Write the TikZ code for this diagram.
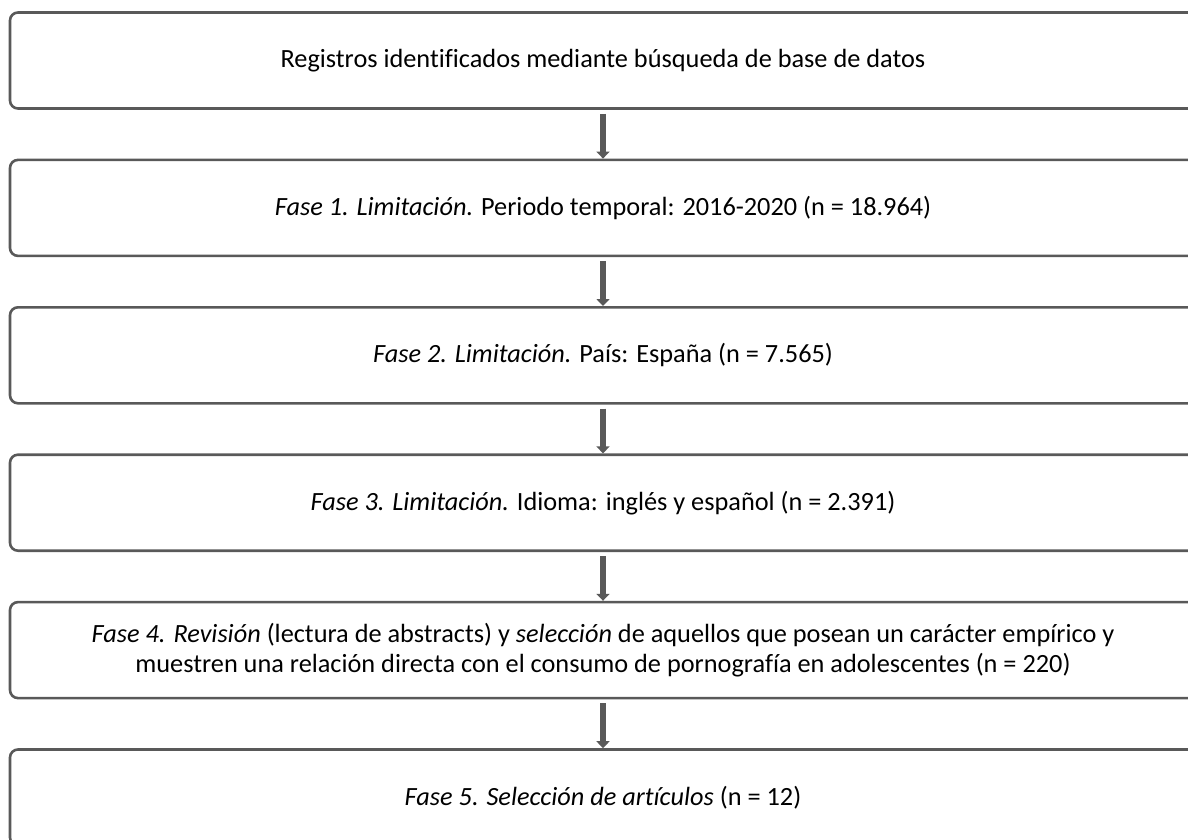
\documentclass[tikz,border=0pt]{standalone}
\usepackage{fontspec}
\setmainfont{Carlito}[Ligatures={NoCommon}]
\usepackage{tikz}
\usetikzlibrary{arrows.meta}
\definecolor{linegray}{HTML}{595959}

\begin{document}
\begin{tikzpicture}[x=1pt, y=-1pt, font=\fontsize{26.3}{30}\selectfont, node distance={147.4pt}, phase/.style = {draw=linegray, line width=2.6pt, rounded corners=8pt, minimum width=1186pt, minimum height=96pt, align=center, inner sep=0pt}, flow/.style = {draw=linegray, line width=5.5pt, -{Triangle[width=13pt, length=7pt]}, shorten <=4pt}]
                \clip (0,0) rectangle (1188,840);
                \node[phase] (b1) at (603,60.5) {Registros identificados mediante búsqueda de base de datos};
                \node[phase] (b2) [below of=b1] {\textit{Fase 1. Limitación.} Periodo temporal: 2016-2020 (n = 18.964)};
                \node[phase] (b3) [below of=b2] {\textit{Fase 2. Limitación.} País: España (n = 7.565)};
                \node[phase] (b4) [below of=b3] {\textit{Fase 3. Limitación.} Idioma: inglés y español (n = 2.391)};
                \node[phase] (b5) [below of=b4] {\textit{Fase 4. Revisión} (lectura de abstracts) y \textit{selección} de aquellos que posean un carácter empírico y\\muestren una relación directa con el consumo de pornografía en adolescentes (n = 220)};
                \node[phase] (b6) [below of=b5] {\textit{Fase 5. Selección de artículos} (n = 12)};
                \draw[flow] (b1) -- (b2);
                \draw[flow] (b2) -- (b3);
                \draw[flow] (b3) -- (b4);
                \draw[flow] (b4) -- (b5);
                \draw[flow] (b5) -- (b6);
            \end{tikzpicture}
\end{document}
